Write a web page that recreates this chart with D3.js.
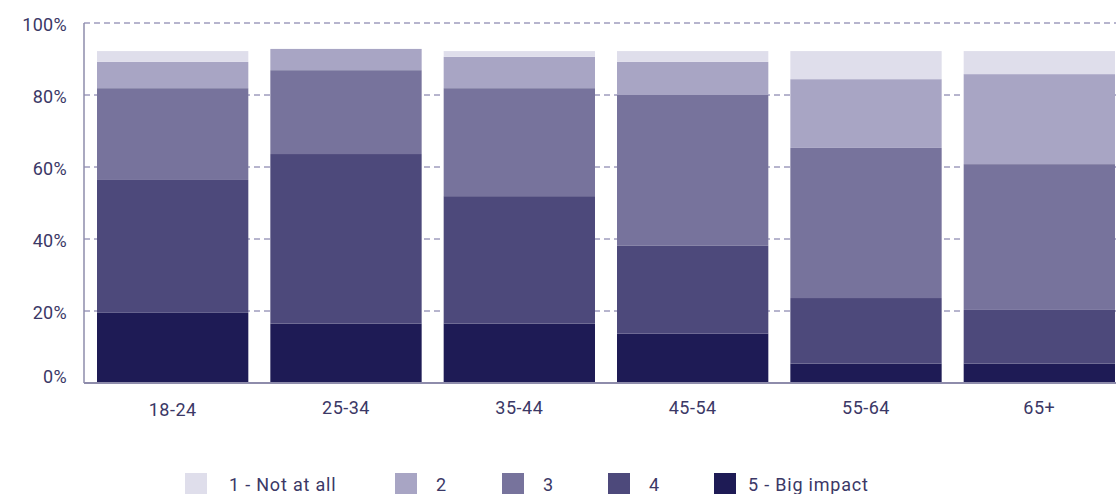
<!DOCTYPE html>
<html>
<head>
<meta charset="utf-8">
<script src="https://cdn.jsdelivr.net/npm/d3@7"></script>
<style>
  body { margin: 0; background: #fff; }
  text { font-family: Roboto, "Noto Sans", sans-serif; fill: #3b3866; }
</style>
</head>
<body>
<svg width="1116" height="494"></svg>
<script>
// age groups on the x axis
const ageGroups = ['18-24', '25-34', '35-44', '45-54', '55-64', '65+'];

// answer levels, bottom of the stack first
const levels = ['5 - Big impact', '4', '3', '2', '1 - Not at all'];
const levelColors = ['#1e1b55', '#4d497b', '#77739c', '#a8a5c4', '#dfdeeb'];

// % per level, same order as ageGroups
const bigImpact = [19.5, 16.5, 16.5, 13.7, 5.4, 5.4];
const level4 = [36.9, 47.1, 35.4, 24.4, 18.2, 14.9];
const level3 = [25.5, 23.3, 30.0, 41.9, 41.7, 40.5];
const level2 = [7.3, 5.9, 8.7, 9.2, 19.1, 25.0];
const notAtAll = [3.0, 0, 1.6, 3.0, 7.8, 6.4];

const yTicks = [0, 20, 40, 60, 80, 100];

// legend reads left to right from "1 - Not at all"
const legendOrder = ['1 - Not at all', '2', '3', '4', '5 - Big impact'];

const svg = d3.select('svg');
const [plotLeft, plotTop, plotBottom, plotRight] = [84, 23, 383, 1128];

// build rows for d3.stack
const rows = ageGroups.map((age, i) => ({
  age: age,
  '5 - Big impact': bigImpact[i],
  '4': level4[i],
  '3': level3[i],
  '2': level2[i],
  '1 - Not at all': notAtAll[i]
}));

const stacked = d3.stack().keys(levels)(rows);

const x = d3.scaleBand()
  .domain(ageGroups)
  .range([plotLeft, plotRight])
  .paddingInner(0.127)
  .paddingOuter(0.075);

const y = d3.scaleLinear()
  .domain([0, 100])
  .range([plotBottom, plotTop]);

const color = d3.scaleOrdinal().domain(levels).range(levelColors);

// dashed grid lines
svg.append('g')
  .selectAll('line')
  .data(yTicks.filter(d => d > 0))
  .join('line')
  .attr('x1', plotLeft)
  .attr('x2', 1116)
  .attr('y1', d => y(d))
  .attr('y2', d => y(d))
  .attr('stroke', '#6e6b9c')
  .attr('stroke-width', 1)
  .attr('stroke-dasharray', '6,4');

// bars
svg.append('g')
  .selectAll('g')
  .data(stacked)
  .join('g')
  .attr('fill', d => color(d.key))
  .selectAll('rect')
  .data(d => d)
  .join('rect')
  .attr('x', d => x(d.data.age))
  .attr('y', d => y(d[1]))
  .attr('width', x.bandwidth())
  .attr('height', d => y(d[0]) - y(d[1]));

// y axis labels (0% sits on the baseline)
svg.append('g')
  .selectAll('text')
  .data(yTicks)
  .join('text')
  .attr('x', 67)
  .attr('y', d => y(d))
  .attr('dy', d => d === 0 ? 0 : 7.5)
  .attr('text-anchor', 'end')
  .attr('font-size', 18)
  .attr('letter-spacing', 0.3)
  .text(d => d + '%');

// axis lines
svg.append('line')
  .attr('x1', plotLeft).attr('x2', plotLeft)
  .attr('y1', plotTop).attr('y2', plotBottom)
  .attr('stroke', '#8e8cab').attr('stroke-width', 1.5);

svg.append('line')
  .attr('x1', plotLeft).attr('x2', 1116)
  .attr('y1', plotBottom).attr('y2', plotBottom)
  .attr('stroke', '#8e8cab').attr('stroke-width', 2);

// x labels
svg.append('g')
  .selectAll('text')
  .data(ageGroups)
  .join('text')
  .attr('x', d => x(d) + x.bandwidth() / 2)
  .attr('y', (d, i) => i === 0 ? 416 : 414)
  .attr('text-anchor', 'middle')
  .attr('font-size', 18)
  .attr('letter-spacing', 0.5)
  .text(d => d);

// legend
const legendX = [185, 395, 502, 608, 714];
const legend = svg.append('g')
  .selectAll('g')
  .data(legendOrder)
  .join('g')
  .attr('transform', (d, i) => `translate(${legendX[i]}, 473)`);

legend.append('rect')
  .attr('width', 22)
  .attr('height', 24)
  .attr('fill', d => color(d));

legend.append('text')
  .attr('x', (d, i) => i === 0 ? 44 : (i === 4 ? 34 : 41))
  .attr('y', 18)
  .attr('font-size', 18)
  .attr('letter-spacing', 0.8)
  .text(d => d);
</script>
</body>
</html>
